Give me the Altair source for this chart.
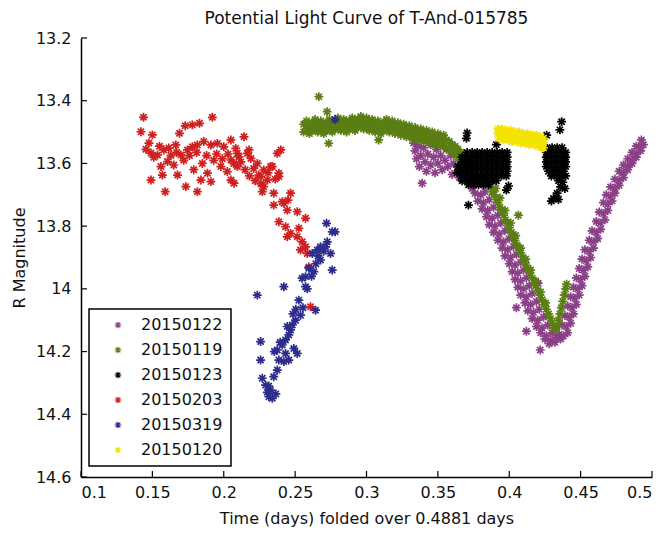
import altair as alt
import pandas as pd

# Observation nights, in legend / drawing order, with their marker colours
series_names = ["20150122", "20150119", "20150123", "20150203", "20150319", "20150120"]
series_colors = ["#8a3f87", "#5a7e12", "#000000", "#cf1f1f", "#2c2c8c", "#f2e400"]

# (phase in days, R magnitude) per night
night_20150122 = [
    (0.333, 13.535), (0.334, 13.56), (0.335, 13.585), (0.336, 13.545), (0.337, 13.61), (0.338, 13.575),
    (0.339, 13.663), (0.340, 13.55), (0.341, 13.595), (0.342, 13.625), (0.343, 13.57), (0.345, 13.54),
    (0.345, 13.605), (0.347, 13.58), (0.348, 13.63), (0.349, 13.555), (0.350, 13.60), (0.352, 13.515),
    (0.352, 13.575), (0.353, 13.62), (0.355, 13.59), (0.356, 13.555), (0.357, 13.61), (0.359, 13.575),
    (0.360, 13.635), (0.361, 13.60), (0.363, 13.57), (0.364, 13.625), (0.365, 13.645), (0.367, 13.60),
    (0.368, 13.65), (0.370, 13.63), (0.372, 13.66), (0.374, 13.68), (0.376, 13.665),
    (0.376, 13.695), (0.380, 13.70), (0.383, 13.69), (0.378, 13.72), (0.382, 13.725), (0.386, 13.715),
    (0.381, 13.745), (0.385, 13.75), (0.389, 13.74), (0.384, 13.77), (0.388, 13.775), (0.392, 13.765),
    (0.386, 13.795), (0.390, 13.80), (0.394, 13.79), (0.389, 13.82), (0.393, 13.825), (0.397, 13.815),
    (0.392, 13.845), (0.396, 13.85), (0.400, 13.84), (0.395, 13.87), (0.399, 13.875), (0.403, 13.865),
    (0.397, 13.895), (0.401, 13.90), (0.405, 13.89), (0.400, 13.92), (0.404, 13.925), (0.408, 13.915),
    (0.402, 13.945), (0.406, 13.95), (0.410, 13.94), (0.404, 13.97), (0.408, 13.975), (0.412, 13.965),
    (0.406, 13.995), (0.410, 14.00), (0.414, 13.99), (0.408, 14.02), (0.412, 14.025), (0.416, 14.015),
    (0.411, 14.045), (0.415, 14.05), (0.419, 14.04), (0.405, 14.06), (0.413, 14.07), (0.417, 14.075),
    (0.421, 14.065), (0.416, 14.095), (0.420, 14.10), (0.424, 14.09), (0.412, 14.135), (0.419, 14.12),
    (0.423, 14.125), (0.427, 14.115), (0.422, 14.14), (0.426, 14.15), (0.430, 14.14), (0.425, 14.16),
    (0.429, 14.165), (0.433, 14.155), (0.4217, 14.195), (0.428, 14.175), (0.432, 14.17), (0.436, 14.16),
    (0.4203, 13.982),
    (0.435, 14.145), (0.438, 14.15), (0.441, 14.14), (0.437, 14.115), (0.440, 14.12), (0.443, 14.11),
    (0.439, 14.085), (0.442, 14.09), (0.445, 14.08), (0.441, 14.055), (0.444, 14.06), (0.447, 14.05),
    (0.443, 14.025), (0.446, 14.03), (0.449, 14.02), (0.445, 13.995), (0.448, 14.00), (0.451, 13.99),
    (0.447, 13.965), (0.450, 13.97), (0.453, 13.96), (0.449, 13.935), (0.452, 13.94), (0.455, 13.93),
    (0.451, 13.905), (0.454, 13.91), (0.457, 13.90), (0.453, 13.875), (0.456, 13.88), (0.459, 13.87),
    (0.456, 13.845), (0.459, 13.85), (0.462, 13.84), (0.458, 13.815), (0.461, 13.82), (0.464, 13.81),
    (0.461, 13.785), (0.464, 13.79), (0.467, 13.78), (0.463, 13.755), (0.466, 13.76), (0.469, 13.75),
    (0.466, 13.725), (0.469, 13.73), (0.472, 13.72), (0.468, 13.70), (0.471, 13.705), (0.474, 13.695),
    (0.471, 13.675), (0.474, 13.68), (0.477, 13.67), (0.474, 13.65), (0.477, 13.655), (0.480, 13.645),
    (0.477, 13.625), (0.480, 13.63), (0.483, 13.62), (0.480, 13.605), (0.483, 13.61), (0.486, 13.60),
    (0.483, 13.585), (0.486, 13.59), (0.489, 13.58), (0.486, 13.565), (0.489, 13.57), (0.492, 13.56),
    (0.489, 13.545), (0.492, 13.55), (0.494, 13.54), (0.4926, 13.525),
]

night_20150119 = [
    (0.256, 13.475), (0.256, 13.50), (0.258, 13.465), (0.258, 13.49), (0.260, 13.48), (0.260, 13.505),
    (0.262, 13.47), (0.262, 13.495), (0.264, 13.485), (0.264, 13.46), (0.266, 13.475), (0.266, 13.50),
    (0.268, 13.465), (0.268, 13.49), (0.270, 13.48), (0.270, 13.505), (0.272, 13.47), (0.272, 13.495),
    (0.274, 13.46), (0.274, 13.485), (0.276, 13.475), (0.276, 13.50), (0.278, 13.465), (0.278, 13.49),
    (0.280, 13.48), (0.280, 13.455), (0.282, 13.47), (0.282, 13.495), (0.284, 13.46), (0.284, 13.485),
    (0.286, 13.475), (0.286, 13.50), (0.288, 13.465), (0.288, 13.49), (0.290, 13.455), (0.290, 13.48),
    (0.292, 13.47), (0.292, 13.495), (0.294, 13.46), (0.294, 13.485), (0.296, 13.475), (0.296, 13.45),
    (0.298, 13.465), (0.298, 13.49), (0.300, 13.48), (0.300, 13.455), (0.302, 13.47), (0.302, 13.495),
    (0.304, 13.46), (0.304, 13.485), (0.306, 13.475), (0.306, 13.50), (0.308, 13.465), (0.308, 13.49),
    (0.310, 13.48), (0.310, 13.505), (0.312, 13.47), (0.312, 13.495), (0.314, 13.485), (0.314, 13.46),
    (0.316, 13.475), (0.316, 13.50), (0.318, 13.49), (0.318, 13.465), (0.320, 13.48), (0.320, 13.505),
    (0.322, 13.47), (0.322, 13.495), (0.324, 13.485), (0.324, 13.51), (0.326, 13.475), (0.326, 13.50),
    (0.328, 13.49), (0.328, 13.515), (0.330, 13.48), (0.330, 13.505), (0.332, 13.495), (0.332, 13.52),
    (0.334, 13.485), (0.334, 13.51), (0.336, 13.50), (0.336, 13.525), (0.338, 13.49), (0.338, 13.515),
    (0.340, 13.505), (0.340, 13.53), (0.342, 13.495), (0.342, 13.52), (0.344, 13.51), (0.344, 13.535),
    (0.346, 13.50), (0.346, 13.525), (0.348, 13.515), (0.348, 13.54), (0.350, 13.505), (0.350, 13.53),
    (0.352, 13.52), (0.352, 13.545), (0.354, 13.51), (0.354, 13.535), (0.356, 13.525), (0.356, 13.55),
    (0.358, 13.53), (0.358, 13.555), (0.360, 13.54), (0.360, 13.565), (0.362, 13.545), (0.362, 13.57),
    (0.364, 13.555), (0.364, 13.58), (0.366, 13.565), (0.366, 13.59), (0.368, 13.575), (0.370, 13.59),
    (0.372, 13.60), (0.374, 13.615), (0.376, 13.625), (0.378, 13.64), (0.380, 13.65), (0.382, 13.655),
    (0.384, 13.665),
    (0.387, 13.675), (0.388, 13.69), (0.3895, 13.70), (0.391, 13.715), (0.392, 13.725), (0.3935, 13.74),
    (0.3945, 13.75), (0.396, 13.765), (0.3975, 13.78), (0.3985, 13.79), (0.400, 13.805), (0.4015, 13.82),
    (0.4025, 13.83), (0.404, 13.845), (0.4055, 13.86), (0.4065, 13.87), (0.408, 13.885), (0.4095, 13.90),
    (0.4105, 13.91), (0.412, 13.925), (0.4135, 13.94), (0.4145, 13.95), (0.416, 13.965), (0.4175, 13.98),
    (0.4185, 13.99), (0.420, 14.005), (0.4215, 14.02), (0.423, 14.035), (0.4245, 14.05), (0.426, 14.065),
    (0.4275, 14.08), (0.429, 14.095), (0.430, 14.11), (0.431, 14.125), (0.4325, 14.13),
    (0.3905, 13.68), (0.3935, 13.71), (0.397, 13.75), (0.401, 13.79), (0.4045, 13.83), (0.408, 13.87),
    (0.4115, 13.905), (0.415, 13.94), (0.4185, 13.975), (0.422, 14.01), (0.4255, 14.045),
    (0.4335, 14.12), (0.4345, 14.10), (0.4355, 14.08), (0.4365, 14.06), (0.4375, 14.04), (0.4385, 14.02),
    (0.4395, 14.00), (0.4402, 13.985),
    (0.2666, 13.387), (0.2724, 13.435), (0.2735, 13.536), (0.3085, 13.525), (0.4064, 13.765),
]

night_20150123 = [
    (0.3705, 13.565), (0.374, 13.565), (0.3775, 13.565), (0.381, 13.565), (0.3845, 13.565), (0.388, 13.565),
    (0.3915, 13.565), (0.395, 13.565), (0.3985, 13.565),
    (0.367, 13.58), (0.3705, 13.58), (0.374, 13.58), (0.3775, 13.58), (0.381, 13.58), (0.3845, 13.58),
    (0.388, 13.58), (0.3915, 13.58), (0.395, 13.58), (0.3985, 13.58),
    (0.367, 13.595), (0.3705, 13.595), (0.374, 13.595), (0.3775, 13.595), (0.381, 13.595), (0.3845, 13.595),
    (0.388, 13.595), (0.3915, 13.595), (0.395, 13.595), (0.3985, 13.595),
    (0.367, 13.61), (0.3705, 13.61), (0.374, 13.61), (0.3775, 13.61), (0.381, 13.61), (0.3845, 13.61),
    (0.388, 13.61), (0.3915, 13.61), (0.395, 13.61), (0.3985, 13.61),
    (0.367, 13.625), (0.3705, 13.625), (0.374, 13.625), (0.3775, 13.625), (0.381, 13.625), (0.3845, 13.625),
    (0.388, 13.625), (0.3915, 13.625), (0.395, 13.625), (0.3985, 13.625),
    (0.3665, 13.64), (0.370, 13.64), (0.3735, 13.64), (0.377, 13.64), (0.3805, 13.64), (0.384, 13.64),
    (0.3875, 13.64), (0.391, 13.64), (0.3945, 13.64), (0.398, 13.64),
    (0.367, 13.655), (0.3705, 13.655), (0.374, 13.655), (0.3775, 13.655), (0.381, 13.655), (0.3845, 13.655),
    (0.388, 13.655), (0.391, 13.655),
    (0.3715, 13.668), (0.375, 13.668), (0.3785, 13.668), (0.382, 13.668), (0.3855, 13.668),
    (0.3705, 13.503), (0.370, 13.52), (0.391, 13.54), (0.3714, 13.733), (0.398, 13.685), (0.3995, 13.672),
    (0.364, 13.61), (0.3635, 13.63),
    (0.4265, 13.55), (0.430, 13.55), (0.4335, 13.55), (0.437, 13.55),
    (0.426, 13.565), (0.4295, 13.565), (0.433, 13.565), (0.4365, 13.565), (0.4395, 13.565),
    (0.426, 13.58), (0.4295, 13.58), (0.433, 13.58), (0.4365, 13.58), (0.4395, 13.58),
    (0.426, 13.595), (0.4295, 13.595), (0.433, 13.595), (0.4365, 13.595), (0.4395, 13.595),
    (0.426, 13.61), (0.4295, 13.61), (0.433, 13.61), (0.4365, 13.61), (0.4395, 13.61),
    (0.4275, 13.625), (0.431, 13.625), (0.4345, 13.625), (0.438, 13.625),
    (0.4295, 13.64), (0.433, 13.64), (0.4365, 13.64), (0.4395, 13.64),
    (0.4345, 13.655), (0.4375, 13.66), (0.436, 13.675), (0.439, 13.68), (0.4335, 13.695), (0.431, 13.712),
    (0.4345, 13.715), (0.4295, 13.72),
    (0.4367, 13.467), (0.4355, 13.493), (0.4262, 13.51),
]

night_20150203 = [
    (0.1438, 13.453), (0.142, 13.499), (0.150, 13.509), (0.192, 13.453), (0.173, 13.48), (0.178, 13.477),
    (0.183, 13.472), (0.169, 13.504), (0.1455, 13.555), (0.149, 13.567), (0.1536, 13.573), (0.158, 13.557),
    (0.1615, 13.551), (0.1664, 13.541), (0.170, 13.573), (0.1746, 13.557), (0.178, 13.547), (0.1815, 13.541),
    (0.186, 13.53), (0.191, 13.541), (0.1955, 13.536), (0.200, 13.547), (0.205, 13.525), (0.2084, 13.552),
    (0.156, 13.61), (0.1606, 13.594), (0.165, 13.605), (0.157, 13.637), (0.1676, 13.637), (0.149, 13.653),
    (0.159, 13.69), (0.1734, 13.674), (0.1815, 13.69), (0.179, 13.62), (0.184, 13.653), (0.1886, 13.631),
    (0.191, 13.658), (0.198, 13.61), (0.2025, 13.626), (0.205, 13.653), (0.2095, 13.61), (0.193, 13.59),
    (0.2095, 13.568), (0.1476, 13.535), (0.151, 13.58), (0.155, 13.545), (0.163, 13.575), (0.167, 13.565),
    (0.172, 13.59), (0.176, 13.575), (0.181, 13.565), (0.185, 13.60), (0.188, 13.575), (0.195, 13.57),
    (0.199, 13.585), (0.203, 13.57), (0.207, 13.60), (0.212, 13.595), (0.215, 13.62), (0.218, 13.64),
    (0.222, 13.655), (0.226, 13.665), (0.231, 13.63), (0.236, 13.65),
    (0.2142, 13.515), (0.2177, 13.557), (0.219, 13.584), (0.2235, 13.60), (0.228, 13.621), (0.2305, 13.653),
    (0.228, 13.674), (0.234, 13.61), (0.2375, 13.568), (0.240, 13.557), (0.2386, 13.642), (0.235, 13.695),
    (0.2246, 13.637), (0.221, 13.616), (0.2421, 13.727), (0.245, 13.717),
    (0.205, 13.589), (0.2107, 13.579), (0.2165, 13.568), (0.2072, 13.663), (0.2258, 13.642), (0.227, 13.69),
    (0.2328, 13.61), (0.2386, 13.631), (0.235, 13.733), (0.241, 13.722), (0.2468, 13.695), (0.2445, 13.749),
    (0.2515, 13.754), (0.2573, 13.775), (0.2386, 13.786), (0.2433, 13.802), (0.2468, 13.823), (0.2526, 13.807),
    (0.2515, 13.834), (0.2445, 13.834), (0.2549, 13.85), (0.2538, 13.876), (0.2585, 13.887), (0.2573, 13.866),
    (0.2596, 13.93), (0.2608, 14.057),
]

night_20150319 = [
    (0.272, 13.791), (0.276, 13.818), (0.278, 13.818), (0.2678, 13.866), (0.2713, 13.866), (0.2655, 13.876),
    (0.262, 13.887), (0.2748, 13.887), (0.2678, 13.908), (0.276, 13.94), (0.2596, 13.934), (0.2631, 13.945),
    (0.2573, 13.961), (0.2573, 13.993), (0.2549, 13.966), (0.2421, 13.993), (0.2235, 14.02), (0.2526, 14.036),
    (0.2643, 14.068), (0.2538, 14.084), (0.2503, 14.10), (0.248, 14.115), (0.2468, 14.131), (0.2456, 14.147),
    (0.2433, 14.163), (0.241, 14.179), (0.2258, 14.168), (0.2375, 14.195), (0.2491, 14.19), (0.2515, 14.206),
    (0.2433, 14.206), (0.2386, 14.227), (0.2456, 14.227), (0.2421, 14.232), (0.2375, 14.259), (0.2258, 14.227),
    (0.235, 14.28), (0.227, 14.285), (0.2293, 14.307), (0.2328, 14.323), (0.2316, 14.344), (0.234, 14.349),
    (0.270, 13.88), (0.2725, 13.85), (0.266, 13.895), (0.2645, 13.92), (0.2615, 13.96), (0.2585, 14.00),
    (0.2555, 14.06), (0.2505, 14.065), (0.2485, 14.08), (0.2445, 14.12), (0.2395, 14.17), (0.2355, 14.20),
    (0.2315, 14.31), (0.2305, 14.33), (0.2365, 14.335), (0.278, 13.46),
]

night_20150120 = [
    (0.392, 13.49), (0.392, 13.505), (0.393, 13.52), (0.395, 13.49), (0.395, 13.51), (0.396, 13.525),
    (0.398, 13.495), (0.398, 13.51), (0.399, 13.525), (0.401, 13.495), (0.401, 13.515), (0.402, 13.53),
    (0.404, 13.50), (0.404, 13.515), (0.405, 13.53), (0.407, 13.50), (0.407, 13.52), (0.408, 13.535),
    (0.410, 13.505), (0.410, 13.52), (0.411, 13.535), (0.413, 13.505), (0.413, 13.525), (0.414, 13.54),
    (0.416, 13.51), (0.416, 13.525), (0.417, 13.54), (0.419, 13.51), (0.419, 13.53), (0.420, 13.545),
    (0.422, 13.515), (0.422, 13.53), (0.423, 13.55), (0.424, 13.52), (0.424, 13.535), (0.424, 13.55),
]

x_ticks = [0.1, 0.15, 0.2, 0.25, 0.3, 0.35, 0.4, 0.45, 0.5]
y_ticks = [13.2, 13.4, 13.6, 13.8, 14, 14.2, 14.4, 14.6]

rows = []
for name, pts in zip(series_names, [night_20150122, night_20150119, night_20150123,
                                    night_20150203, night_20150319, night_20150120]):
    for x, y in pts:
        rows.append({"night": name, "phase": x, "mag": y})
df = pd.DataFrame(rows)

# eight-armed asterisk marker
ASTERISK = "M-1,0L1,0M0,-1L0,1M-0.7,-0.7L0.7,0.7M-0.7,0.7L0.7,-0.7"
FONT = "DejaVu Sans"
INK = "#111111"

x_scale = alt.Scale(domain=[0.1, 0.5], nice=False, zero=False)
y_scale = alt.Scale(domain=[13.2, 14.6], reverse=True, nice=False, zero=False)

axis_style = dict(
    ticks=False, grid=False, domainColor="black", domainWidth=1.5,
    labelFont=FONT, labelFontSize=16, labelColor=INK,
    titleFont=FONT, titleFontSize=16, titleFontWeight="normal", titleColor=INK,
    labelExpr="datum.value + ''",
)
x_axis = alt.Axis(values=x_ticks, title="Time (days) folded over 0.4881  days",
                  labelPadding=7, titlePadding=10, **axis_style)
y_axis = alt.Axis(values=y_ticks, title="R Magnitude",
                  labelPadding=10, titlePadding=8, **axis_style)

points = alt.Chart(df).mark_point(
    shape=ASTERISK, filled=False, size=80, strokeWidth=1.7, opacity=1
).encode(
    x=alt.X("phase:Q", scale=x_scale, axis=x_axis),
    y=alt.Y("mag:Q", scale=y_scale, axis=y_axis),
    color=alt.Color(
        "night:N",
        scale=alt.Scale(domain=series_names, range=series_colors),
        legend=alt.Legend(
            title=None, orient="none", legendX=8, legendY=271, direction="vertical",
            symbolType=ASTERISK, symbolSize=45, symbolStrokeWidth=1.2,
            symbolFillColor="transparent", symbolOffset=13,
            labelFont=FONT, labelFontSize=16, labelColor=INK, labelOffset=15,
            rowPadding=9, padding=8, fillColor="white", strokeColor="black",
        ),
    ),
)

# inward-pointing tick marks on both axes
x_tick_marks = alt.Chart(pd.DataFrame({"phase": x_ticks})).mark_rule(
    color="black", strokeWidth=1.2
).encode(
    x=alt.X("phase:Q", scale=x_scale, axis=x_axis),
    y=alt.value(439), y2=alt.value(433),
)
y_tick_marks = alt.Chart(pd.DataFrame({"mag": y_ticks})).mark_rule(
    color="black", strokeWidth=1.2
).encode(
    y=alt.Y("mag:Q", scale=y_scale, axis=y_axis),
    x=alt.value(0), x2=alt.value(6),
)

chart = alt.layer(points, x_tick_marks, y_tick_marks).properties(
    width=571, height=439,
    title=alt.TitleParams("Potential Light Curve of T-And-015785", font=FONT, fontSize=17,
                          fontWeight="normal", color=INK, anchor="middle", offset=2),
    autosize=alt.AutoSizeParams(type="none"),
    padding={"left": 81, "top": 38, "right": 15, "bottom": 58},
).configure_view(strokeWidth=0).configure_legend(strokeWidth=1.5)

chart.save("out.html", embed_options={"renderer": "svg", "actions": False})
